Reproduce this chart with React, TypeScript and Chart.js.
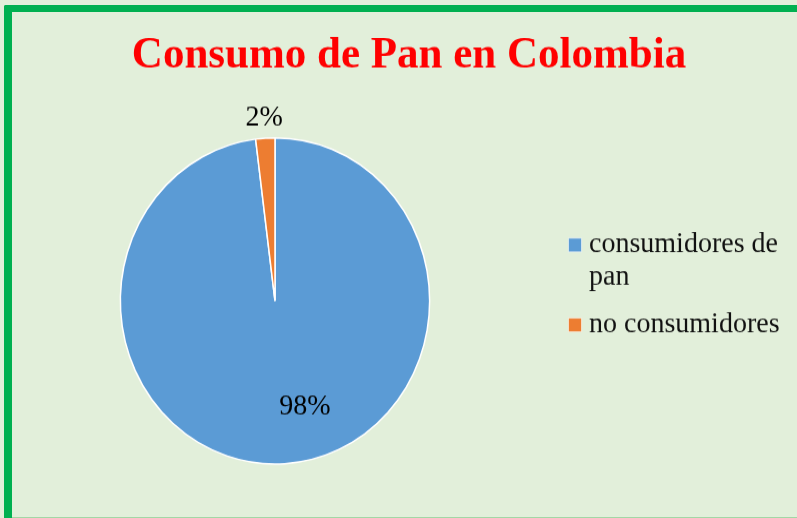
import { useEffect, useRef } from 'react';
import { Chart, registerables } from 'chart.js';

Chart.register(...registerables);

const categories = ['consumidores de pan', 'no consumidores'];
const values = [98, 2];
const percentLabels = ['98%', '2%'];
const colors = ['#5B9BD5', '#ED7D31'];
const titleText = 'Consumo de Pan en Colombia';

const W = 797;
const H = 518;
const S = 328 / 311; // vertical stretch of the reference
const HU = Math.round((H / S) * 10) / 10;
const FONT = '"Liberation Serif", "Times New Roman", serif';

// label placement (radius factor, angle shift in degrees)
const labelRadius = [0.68, 1.125];
const labelShift = [-12.9, 0];

function wrapText(ctx: CanvasRenderingContext2D, text: string, maxW: number): string[] {
  const words = text.split(' ');
  const lines: string[] = [];
  let cur = '';
  for (const w of words) {
    const test = cur ? cur + ' ' + w : w;
    if (ctx.measureText(test).width > maxW && cur) {
      lines.push(cur);
      cur = w;
    } else {
      cur = test;
    }
  }
  if (cur) lines.push(cur);
  return lines;
}

const overlayPlugin = {
  id: 'overlay',
  afterDatasetsDraw(chart: any) {
    const ctx: CanvasRenderingContext2D = chart.ctx;
    const meta = chart.getDatasetMeta(0);
    ctx.save();
    // title
    ctx.fillStyle = '#FF0000';
    ctx.font = `bold 43px ${FONT}`;
    ctx.textAlign = 'center';
    ctx.textBaseline = 'alphabetic';
    ctx.fillText(titleText, 409, 63.5);

    // data labels
    ctx.font = `28px ${FONT}`;
    ctx.fillStyle = '#000000';
    ctx.textBaseline = 'middle';
    meta.data.forEach((arc: any, i: number) => {
      const p = arc.getProps(['x', 'y', 'startAngle', 'endAngle', 'outerRadius'], true);
      const mid = (p.startAngle + p.endAngle) / 2 + (labelShift[i] * Math.PI) / 180;
      const r = p.outerRadius * labelRadius[i];
      ctx.fillText(percentLabels[i], p.x + Math.cos(mid) * r, p.y + Math.sin(mid) * r);
    });

    // legend
    const labels: string[] = chart.data.labels;
    const bg: string[] = chart.data.datasets[0].backgroundColor;
    ctx.textAlign = 'left';
    ctx.textBaseline = 'alphabetic';
    ctx.font = `28px ${FONT}`;
    let cy = 232.3;
    const lineH = 31.3;
    labels.forEach((lab, i) => {
      const lines = wrapText(ctx, lab, 205);
      ctx.fillStyle = bg[i];
      ctx.fillRect(568.5, cy - 6.5, 13, 13);
      ctx.strokeStyle = 'rgba(255,255,255,0.55)';
      ctx.lineWidth = 1;
      ctx.strokeRect(568.5, cy - 6.5, 13, 13);
      ctx.fillStyle = '#111111';
      lines.forEach((ln, j) => {
        ctx.fillText(ln, 589, cy + 6.6 + j * lineH);
      });
      cy += lines.length * lineH + 13.2;
    });
    ctx.restore();
  },
};

export default function App() {
  const ref = useRef<HTMLCanvasElement | null>(null);

  useEffect(() => {
    document.body.style.margin = '0';
    if (!ref.current) return;
    const chart = new Chart(ref.current, {
      type: 'pie',
      data: {
        labels: categories,
        datasets: [
          {
            data: values,
            backgroundColor: colors,
            borderColor: '#ffffff',
            borderWidth: 1.5,
          },
        ],
      },
      options: {
        responsive: false,
        animation: false,
        layout: {
          padding: {
            left: 119.5,
            right: W - 430.5,
            top: 285.4 - 155.5,
            bottom: HU - 285.4 - 155.5,
          },
        },
        plugins: {
          legend: { display: false },
          title: { display: false },
          tooltip: { enabled: false },
        },
      },
      plugins: [overlayPlugin],
    });
    let alive = true;
    if ((document as any).fonts && (document as any).fonts.load) {
      Promise.all([
        (document as any).fonts.load(`28px "Liberation Serif"`),
        (document as any).fonts.load(`bold 43px "Liberation Serif"`),
      ])
        .then(() => {
          if (alive) chart.update();
        })
        .catch(() => {});
    }
    return () => {
      alive = false;
      chart.destroy();
    };
  }, []);

  return (
    <div
      style={{
        position: 'fixed',
        left: 0,
        top: 0,
        width: W,
        height: H,
        overflow: 'hidden',
        background: '#E2EFDA',
      }}
    >
      <div
        style={{
          position: 'absolute',
          left: 4,
          top: 5,
          width: W + 20,
          height: H + 20,
          borderLeft: '8px solid #00B050',
          borderTop: '7px solid #00B050',
          borderTopLeftRadius: 2,
          boxSizing: 'border-box',
        }}
      />
      <div
        style={{
          position: 'absolute',
          left: 12,
          bottom: 0,
          width: W,
          height: 1.5,
          background: '#A3D7A5',
        }}
      />
      <div
        style={{
          position: 'absolute',
          left: 0,
          top: 0,
          width: W,
          height: HU,
          transform: `scaleY(${S})`,
          transformOrigin: '0 0',
        }}
      >
        <canvas ref={ref} width={W} height={HU} style={{ width: W, height: HU, display: 'block' }} />
      </div>
    </div>
  );
}
